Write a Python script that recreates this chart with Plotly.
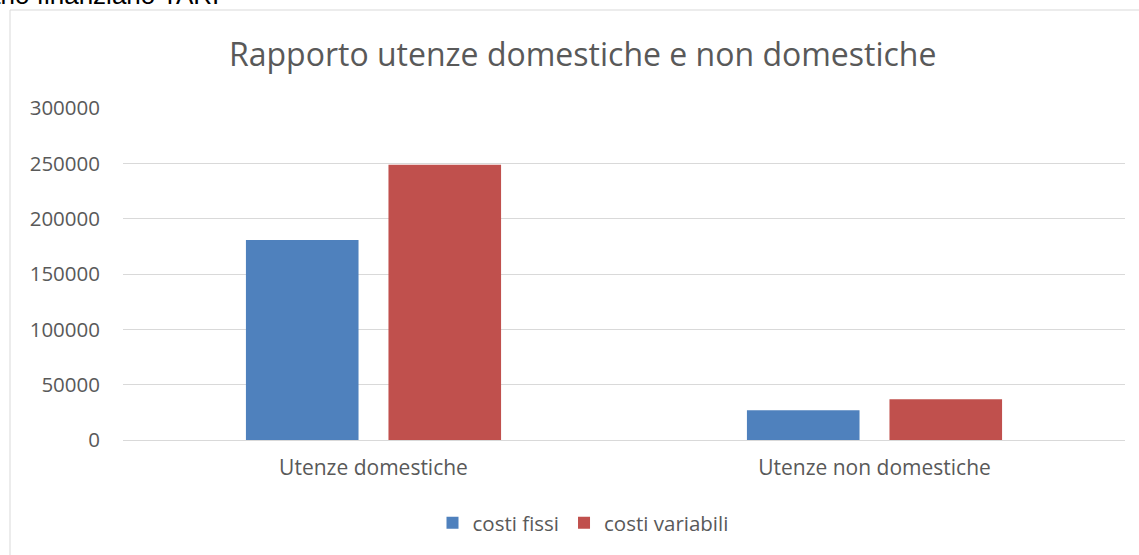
import plotly.graph_objects as go

categories = ["Utenze domestiche", "Utenze non domestiche"]
costi_fissi = [180700, 26800]
costi_variabili = [248800, 36800]
series_names = ["costi fissi", "costi variabili"]
colors = ["#4f81bd", "#c0504d"]
y_ticks = [0, 50000, 100000, 150000, 200000, 250000, 300000]

W, H = 1139, 555
L, R, T, B = 123, 1125, 108, 440  # plot area in pixels

def px(x):
    return (x - L) / (R - L)

def py(y):
    return (B - y) / (B - T)

FONT = "Open Sans"
GREY = "#595959"

fig = go.Figure()
for name, vals, col in zip(series_names, [costi_fissi, costi_variabili], colors):
    fig.add_trace(go.Bar(x=categories, y=vals, name=name, marker=dict(color=col, line=dict(width=0))))

fig.update_layout(
    width=W, height=H,
    margin=dict(l=L, r=W - R, t=T, b=H - B),
    paper_bgcolor="white", plot_bgcolor="white",
    barmode="group", bargap=0.431, bargroupgap=0.21,
    font=dict(family=FONT, color=GREY, size=20),
    showlegend=True,
    legend=dict(orientation="h", x=px(583), xanchor="center", y=py(523), yanchor="middle",
                font=dict(size=20.5, color=GREY), itemwidth=30, traceorder="normal"),
    xaxis=dict(showgrid=False, showline=True, linecolor="#d9d9d9", linewidth=1,
               tickfont=dict(size=21, color=GREY), ticks="", ticklabelstandoff=9),
    yaxis=dict(range=[0, 300000], tickvals=y_ticks, ticktext=[str(v) for v in y_ticks],
               showgrid=True, gridcolor="#d9d9d9", gridwidth=1, zeroline=True,
               zerolinecolor="#d9d9d9", zerolinewidth=1, showline=False,
               tickfont=dict(size=20.5, color=GREY), ticks="", ticklabelstandoff=22),
    annotations=[
        dict(text="Rapporto utenze domestiche e non domestiche", xref="paper", yref="paper",
             x=px(582), y=py(54), xanchor="center", yanchor="middle", showarrow=False,
             font=dict(size=32, color=GREY, family=FONT)),
        dict(text="Piano finanziario TARI", xref="paper", yref="paper",
             x=px(221), y=py(12), xanchor="right", yanchor="bottom", showarrow=False,
             font=dict(size=26, color="black", family="Liberation Sans")),
    ],
    shapes=[
        dict(type="rect", xref="paper", yref="paper", x0=px(10), x1=px(1200), y0=py(600), y1=py(10),
             line=dict(color="#d9d9d9", width=1), fillcolor="rgba(0,0,0,0)", layer="below"),
    ],
)

fig.write_html("out.html", config={"displayModeBar": False},
               post_script="document.body.style.margin='0';document.body.style.padding='0';")
